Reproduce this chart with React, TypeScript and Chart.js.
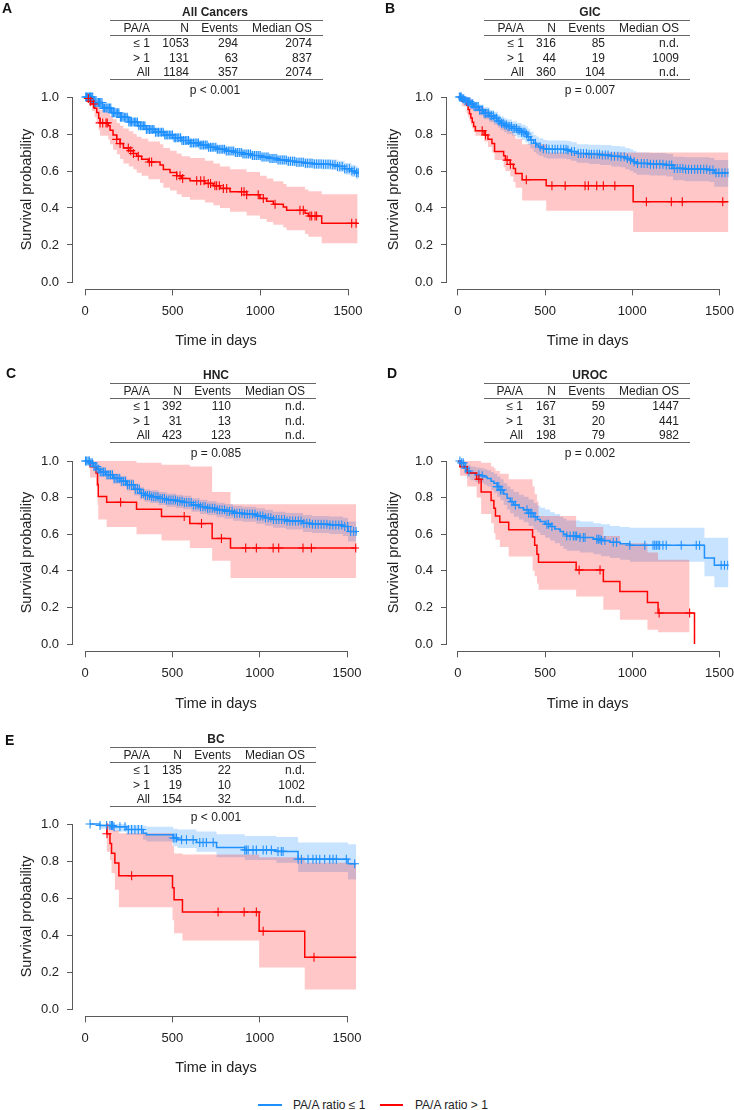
import React, { useEffect, useRef } from "react";
import { Chart, registerables } from "chart.js";

Chart.register(...registerables);

const FONT = "'Liberation Sans', Arial, Helvetica, sans-serif";
const BLUE = "#1E90FF";
const RED = "#FF0000";
const BLUE_BAND = "rgba(30,144,255,0.25)";
const RED_BAND = "rgba(255,0,0,0.22)";
const TEXT = "#222222";
const AXIS = "#5a5a5a";
const RULE = "#666666";

Chart.defaults.font.family = FONT;
Chart.defaults.color = TEXT;

// ---------- axes ----------
const xTicks = [0, 500, 1000, 1500];
const yTicks = [0, 0.2, 0.4, 0.6, 0.8, 1.0];
const xTitle = "Time in days";
const yTitle = "Survival probability";
const legendLabels = ["PA/A ratio \u2264 1", "PA/A ratio > 1"];
const rowLabels = ["\u2264 1", "> 1", "All"];
const headLabels = ["PA/A", "N", "Events", "Median OS"];

// ---------- Panel A: All Cancers ----------
const aLoT = [0, 50, 100, 150, 200, 250, 300, 350, 400, 450, 500, 550, 600, 650, 700, 750, 800, 850, 900, 950, 1000, 1050, 1100, 1150, 1200, 1250, 1300, 1350, 1400, 1440, 1480, 1520, 1545, 1560];
const aLoS = [1, 0.97, 0.94, 0.915, 0.89, 0.865, 0.845, 0.825, 0.81, 0.795, 0.78, 0.765, 0.752, 0.74, 0.728, 0.718, 0.708, 0.7, 0.692, 0.684, 0.676, 0.668, 0.66, 0.653, 0.647, 0.642, 0.638, 0.636, 0.634, 0.625, 0.612, 0.6, 0.59, 0.59];
const aLoU = [1, 0.98, 0.953, 0.93, 0.906, 0.882, 0.863, 0.844, 0.829, 0.815, 0.8, 0.786, 0.773, 0.762, 0.75, 0.74, 0.731, 0.723, 0.715, 0.708, 0.7, 0.693, 0.685, 0.679, 0.673, 0.669, 0.665, 0.664, 0.662, 0.655, 0.643, 0.633, 0.625, 0.625];
const aLoL = [1, 0.96, 0.927, 0.9, 0.874, 0.848, 0.827, 0.806, 0.791, 0.775, 0.76, 0.744, 0.731, 0.718, 0.706, 0.696, 0.685, 0.677, 0.669, 0.66, 0.652, 0.643, 0.635, 0.627, 0.621, 0.615, 0.611, 0.608, 0.606, 0.595, 0.581, 0.567, 0.555, 0.555];
const aLoC = [4, 9, 15, 22, 26, 31, 38, 44, 51, 57, 62, 69, 77, 83, 90, 97, 104, 111, 119, 125, 132, 140, 147, 155, 163, 170, 178, 186, 193, 202, 209, 217, 226, 233, 241, 250, 258, 265, 274, 283, 290, 299, 307, 316, 325, 333, 341, 350, 359, 368, 376, 384, 393, 402, 411, 419, 428, 437, 446, 455, 463, 472, 481, 490, 499, 509, 517, 526, 535, 545, 553, 562, 572, 581, 590, 600, 609, 619, 628, 638, 647, 657, 667, 676, 686, 696, 705, 716, 725, 735, 746, 755, 765, 776, 786, 796, 806, 817, 827, 838, 848, 859, 869, 880, 891, 901, 912, 923, 933, 944, 955, 966, 977, 988, 999, 1010, 1021, 1033, 1044, 1055, 1067, 1078, 1090, 1101, 1113, 1125, 1136, 1148, 1160, 1172, 1184, 1196, 1208, 1221, 1233, 1245, 1258, 1270, 1283, 1295, 1308, 1321, 1334, 1347, 1360, 1373, 1386, 1399, 1413, 1426, 1440, 1453, 1467, 1481, 1494, 1508, 1522, 1536, 1549, 1558];
const aHiT = [0, 12, 25, 40, 55, 67, 78, 86, 133, 143, 160, 181, 200, 219, 250, 276, 295, 323, 361, 428, 447, 485, 523, 551, 599, 684, 732, 770, 827, 922, 998, 1036, 1074, 1131, 1150, 1255, 1274, 1350, 1555];
const aHiS = [1, 0.992, 0.977, 0.962, 0.939, 0.916, 0.885, 0.86, 0.845, 0.82, 0.794, 0.771, 0.748, 0.725, 0.71, 0.695, 0.68, 0.664, 0.649, 0.633, 0.608, 0.592, 0.575, 0.56, 0.547, 0.533, 0.52, 0.506, 0.488, 0.472, 0.452, 0.437, 0.42, 0.405, 0.388, 0.371, 0.357, 0.317, 0.317];
const aHiU = [1, 1, 1, 0.995, 0.985, 0.97, 0.95, 0.93, 0.92, 0.9, 0.88, 0.86, 0.845, 0.83, 0.815, 0.8, 0.785, 0.775, 0.76, 0.745, 0.725, 0.71, 0.695, 0.68, 0.67, 0.655, 0.64, 0.625, 0.61, 0.595, 0.575, 0.56, 0.545, 0.53, 0.515, 0.5, 0.49, 0.475, 0.475];
const aHiL = [1, 0.975, 0.95, 0.925, 0.89, 0.86, 0.82, 0.79, 0.77, 0.745, 0.715, 0.69, 0.665, 0.64, 0.625, 0.61, 0.59, 0.575, 0.555, 0.535, 0.51, 0.495, 0.475, 0.46, 0.445, 0.43, 0.415, 0.4, 0.38, 0.36, 0.34, 0.325, 0.31, 0.295, 0.28, 0.26, 0.245, 0.21, 0.21];
const aHiC = [19, 32, 48, 86, 101, 120, 127, 181, 200, 247, 261, 276, 304, 367, 380, 523, 542, 557, 637, 660, 679, 703, 716, 741, 751, 766, 789, 808, 893, 907, 922, 988, 1017, 1084, 1226, 1245, 1283, 1293, 1312, 1321, 1521, 1546];
const aTitle = "All Cancers";
const aN = [1053, 131, 1184];
const aEv = [294, 63, 357];
const aMed = ["2074", "837", "2074"];
const aP = "p < 0.001";

// ---------- Panel B: GIC ----------
const bLoT = [0, 20, 40, 53, 70, 91, 120, 148, 180, 206, 230, 244, 265, 282, 310, 339, 365, 386, 400, 415, 434, 450, 463, 490, 510, 624, 650, 681, 750, 815, 880, 929, 960, 986, 1005, 1024, 1100, 1195, 1234, 1300, 1443, 1471, 1557];
const bLoS = [1, 0.99, 0.98, 0.975, 0.962, 0.948, 0.93, 0.912, 0.898, 0.885, 0.87, 0.858, 0.848, 0.84, 0.83, 0.82, 0.81, 0.8, 0.785, 0.768, 0.75, 0.74, 0.73, 0.72, 0.717, 0.713, 0.705, 0.695, 0.69, 0.686, 0.68, 0.677, 0.668, 0.66, 0.65, 0.641, 0.637, 0.632, 0.614, 0.61, 0.605, 0.59, 0.59];
const bLoU = [1, 1, 1, 0.995, 0.99, 0.975, 0.96, 0.945, 0.93, 0.92, 0.905, 0.895, 0.885, 0.878, 0.868, 0.86, 0.85, 0.842, 0.828, 0.812, 0.795, 0.786, 0.777, 0.767, 0.765, 0.762, 0.755, 0.745, 0.742, 0.74, 0.735, 0.732, 0.724, 0.717, 0.708, 0.7, 0.697, 0.692, 0.677, 0.674, 0.67, 0.66, 0.66];
const bLoL = [1, 0.975, 0.96, 0.955, 0.935, 0.92, 0.9, 0.88, 0.864, 0.85, 0.834, 0.82, 0.81, 0.8, 0.79, 0.78, 0.768, 0.756, 0.74, 0.722, 0.703, 0.692, 0.682, 0.671, 0.668, 0.664, 0.655, 0.645, 0.638, 0.632, 0.625, 0.62, 0.61, 0.6, 0.59, 0.58, 0.576, 0.57, 0.55, 0.545, 0.54, 0.515, 0.515];
const bLoC = [8, 14, 19, 27, 33, 40, 46, 55, 61, 68, 76, 83, 92, 99, 108, 116, 124, 133, 141, 150, 158, 167, 176, 184, 193, 203, 212, 221, 231, 240, 250, 259, 269, 278, 288, 297, 307, 316, 326, 336, 345, 355, 365, 374, 384, 393, 403, 420, 445, 472, 490, 508, 522, 541, 557, 572, 590, 606, 620, 631, 652, 668, 690, 705, 720, 737, 752, 766, 781, 798, 812, 828, 845, 861, 880, 898, 917, 935, 954, 972, 990, 1011, 1030, 1052, 1068, 1086, 1104, 1122, 1139, 1158, 1176, 1195, 1212, 1226, 1241, 1258, 1274, 1290, 1306, 1323, 1340, 1358, 1375, 1392, 1410, 1427, 1445, 1463, 1480, 1497, 1515, 1532, 1550];
const bHiT = [0, 22, 50, 58, 66, 74, 82, 90, 100, 150, 172, 195, 210, 262, 272, 300, 318, 330, 368, 506, 1005, 1557];
const bHiS = [1, 0.977, 0.955, 0.932, 0.909, 0.886, 0.864, 0.841, 0.818, 0.795, 0.772, 0.749, 0.705, 0.682, 0.659, 0.636, 0.613, 0.586, 0.553, 0.52, 0.434, 0.434];
const bHiU = [1, 1, 1, 1, 0.995, 0.98, 0.97, 0.96, 0.945, 0.93, 0.91, 0.895, 0.86, 0.845, 0.83, 0.815, 0.795, 0.775, 0.745, 0.7, 0.7, 0.7];
const bHiL = [1, 0.95, 0.91, 0.89, 0.87, 0.85, 0.83, 0.81, 0.79, 0.76, 0.73, 0.7, 0.66, 0.62, 0.6, 0.57, 0.54, 0.51, 0.44, 0.385, 0.27, 0.27];
const bHiC = [139, 158, 282, 301, 392, 539, 615, 729, 748, 796, 834, 900, 1081, 1224, 1287, 1519];
const bTitle = "GIC";
const bN = [316, 44, 360];
const bEv = [85, 19, 104];
const bMed = ["n.d.", "1009", "n.d."];
const bP = "p = 0.007";

// ---------- Panel C: HNC ----------
const cLoT = [0, 30, 48, 70, 86, 120, 162, 200, 238, 280, 314, 340, 372, 420, 467, 520, 562, 610, 658, 700, 753, 800, 848, 900, 981, 1030, 1077, 1150, 1248, 1300, 1400, 1477, 1506, 1553];
const cLoS = [1, 0.99, 0.97, 0.955, 0.94, 0.925, 0.905, 0.89, 0.87, 0.845, 0.823, 0.812, 0.805, 0.795, 0.787, 0.78, 0.773, 0.76, 0.75, 0.742, 0.733, 0.725, 0.715, 0.71, 0.7, 0.69, 0.68, 0.672, 0.66, 0.655, 0.65, 0.642, 0.615, 0.605];
const cLoU = [1, 1, 0.99, 0.98, 0.965, 0.95, 0.932, 0.918, 0.9, 0.877, 0.856, 0.845, 0.84, 0.83, 0.822, 0.815, 0.81, 0.797, 0.788, 0.78, 0.772, 0.765, 0.755, 0.75, 0.742, 0.733, 0.723, 0.716, 0.705, 0.7, 0.697, 0.69, 0.67, 0.66];
const cLoL = [1, 0.975, 0.95, 0.93, 0.915, 0.898, 0.876, 0.86, 0.838, 0.812, 0.79, 0.778, 0.77, 0.76, 0.75, 0.743, 0.736, 0.722, 0.71, 0.703, 0.693, 0.685, 0.674, 0.668, 0.657, 0.646, 0.635, 0.626, 0.612, 0.607, 0.601, 0.59, 0.56, 0.55];
const cLoC = [3, 10, 18, 25, 34, 42, 51, 59, 68, 78, 87, 97, 106, 116, 126, 136, 146, 157, 167, 178, 188, 199, 210, 221, 232, 243, 254, 266, 277, 288, 300, 311, 323, 335, 346, 358, 370, 382, 394, 406, 418, 430, 443, 455, 467, 480, 492, 505, 518, 530, 543, 556, 569, 582, 595, 608, 621, 634, 648, 661, 675, 688, 702, 715, 729, 743, 757, 771, 785, 799, 813, 827, 842, 856, 870, 885, 899, 914, 929, 943, 958, 973, 988, 1003, 1018, 1033, 1049, 1064, 1079, 1095, 1110, 1126, 1142, 1157, 1173, 1189, 1205, 1221, 1237, 1253, 1270, 1286, 1302, 1319, 1335, 1352, 1368, 1385, 1402, 1419, 1436, 1453, 1470, 1487, 1504, 1521, 1538, 1552];
const cHiT = [0, 29, 63, 72, 76, 124, 295, 438, 600, 728, 833, 1553];
const cHiS = [1, 0.968, 0.935, 0.871, 0.806, 0.774, 0.736, 0.697, 0.658, 0.577, 0.525, 0.525];
const cHiU = [1, 1, 1, 1, 1, 1, 0.99, 0.98, 0.97, 0.83, 0.763, 0.763];
const cHiL = [1, 0.91, 0.86, 0.76, 0.68, 0.64, 0.6, 0.565, 0.525, 0.455, 0.36, 0.36];
const cHiC = [204, 568, 667, 781, 920, 981, 1077, 1109, 1248, 1296, 1550];
const cTitle = "HNC";
const cN = [392, 31, 423];
const cEv = [110, 13, 123];
const cMed = ["n.d.", "n.d.", "n.d."];
const cP = "p = 0.085";

// ---------- Panel D: UROC ----------
const dLoT = [0, 15, 34, 50, 72, 100, 129, 150, 168, 190, 206, 225, 244, 262, 282, 300, 320, 350, 377, 405, 434, 455, 472, 500, 529, 555, 586, 605, 624, 700, 777, 820, 872, 930, 986, 1414, 1471, 1557];
const dLoS = [1, 0.99, 0.96, 0.945, 0.933, 0.925, 0.92, 0.912, 0.905, 0.89, 0.878, 0.86, 0.842, 0.82, 0.796, 0.778, 0.76, 0.745, 0.733, 0.715, 0.695, 0.68, 0.669, 0.655, 0.642, 0.628, 0.615, 0.6, 0.59, 0.582, 0.573, 0.565, 0.556, 0.548, 0.54, 0.47, 0.43, 0.43];
const dLoU = [1, 1, 0.99, 0.98, 0.97, 0.965, 0.96, 0.955, 0.95, 0.94, 0.93, 0.915, 0.9, 0.88, 0.86, 0.845, 0.83, 0.815, 0.805, 0.79, 0.77, 0.755, 0.745, 0.735, 0.72, 0.71, 0.695, 0.685, 0.675, 0.67, 0.66, 0.655, 0.645, 0.64, 0.635, 0.58, 0.58, 0.58];
const dLoL = [1, 0.975, 0.93, 0.91, 0.895, 0.885, 0.88, 0.87, 0.86, 0.84, 0.826, 0.805, 0.785, 0.76, 0.735, 0.715, 0.695, 0.68, 0.665, 0.645, 0.625, 0.61, 0.595, 0.58, 0.565, 0.55, 0.535, 0.52, 0.51, 0.5, 0.49, 0.48, 0.47, 0.46, 0.45, 0.37, 0.31, 0.31];
const dLoC = [11, 21, 30, 44, 63, 120, 139, 225, 234, 244, 253, 310, 329, 396, 405, 415, 424, 443, 510, 520, 539, 624, 643, 662, 672, 681, 700, 719, 729, 796, 805, 815, 824, 843, 891, 910, 986, 1072, 1119, 1129, 1138, 1148, 1157, 1176, 1195, 1281, 1367, 1386, 1510, 1529, 1548];
const dHiT = [0, 11, 53, 107, 133, 190, 206, 215, 240, 291, 428, 440, 453, 462, 678, 834, 929, 1087, 1148, 1329, 1357];
const dHiS = [1, 0.968, 0.935, 0.9, 0.83, 0.784, 0.742, 0.7, 0.665, 0.624, 0.585, 0.54, 0.49, 0.447, 0.405, 0.342, 0.287, 0.227, 0.169, 0.169, 0];
const dHiU = [1, 1, 1, 1, 0.99, 0.97, 0.96, 0.945, 0.93, 0.9, 0.86, 0.82, 0.78, 0.7, 0.64, 0.59, 0.55, 0.5, 0.46, 0.46, null];
const dHiL = [1, 0.92, 0.86, 0.8, 0.71, 0.66, 0.605, 0.57, 0.53, 0.478, 0.4, 0.37, 0.33, 0.296, 0.26, 0.187, 0.133, 0.078, 0.064, 0.064, null];
const dHiC = [120, 695, 815, 1154, 1329];
const dTitle = "UROC";
const dN = [167, 31, 198];
const dEv = [59, 20, 79];
const dMed = ["1447", "441", "982"];
const dP = "p = 0.002";

// ---------- Panel E: BC ----------
const eLoT = [29, 86, 162, 238, 333, 352, 505, 530, 638, 753, 915, 1096, 1220, 1506, 1553];
const eLoS = [1, 0.992, 0.985, 0.97, 0.95, 0.942, 0.924, 0.915, 0.9, 0.873, 0.86, 0.852, 0.81, 0.785, 0.785];
const eLoU = [1, 1, 1, 0.995, 0.99, 0.985, 0.975, 0.97, 0.96, 0.945, 0.935, 0.93, 0.9, 0.89, 0.89];
const eLoL = [1, 0.975, 0.96, 0.94, 0.915, 0.905, 0.88, 0.87, 0.85, 0.82, 0.805, 0.79, 0.74, 0.7, 0.7];
const eLoC = [29, 86, 124, 143, 152, 158, 166, 200, 229, 248, 267, 286, 305, 324, 505, 515, 524, 553, 581, 619, 657, 676, 695, 734, 915, 924, 934, 962, 981, 1020, 1039, 1067, 1105, 1124, 1134, 1220, 1239, 1277, 1305, 1324, 1344, 1372, 1401, 1420, 1439, 1496, 1544];
const eHiT = [120, 125, 143, 152, 171, 194, 501, 510, 558, 997, 1258, 1553];
const eHiS = [1, 0.947, 0.895, 0.842, 0.789, 0.72, 0.655, 0.59, 0.524, 0.42, 0.28, 0.28];
const eHiU = [1, 1, 0.995, 0.98, 0.965, 0.95, 0.88, 0.84, 0.835, 0.82, 0.79, 0.79];
const eHiL = [1, 0.85, 0.806, 0.734, 0.644, 0.55, 0.48, 0.41, 0.37, 0.225, 0.105, 0.105];
const eHiC = [126, 267, 762, 911, 981, 1020, 1311];
const eTitle = "BC";
const eN = [135, 19, 154];
const eEv = [22, 10, 32];
const eMed = ["n.d.", "1002", "n.d."];
const eP = "p < 0.001";

// ---------- helpers ----------
type Num = number | null;
type Group = { t: number[]; s: number[]; u: Num[]; l: Num[]; c: number[]; line: string; band: string; bandOrder: number; lineOrder: number; markOrder: number };

function survAt(t: number, times: number[], surv: number[]) {
  let v = surv[0];
  for (let i = 0; i < times.length; i++) {
    if (times[i] <= t) v = surv[i];
    else break;
  }
  return v;
}
function pts(t: number[], v: Num[]) {
  return t.map((x, i) => ({ x, y: v[i] })).filter((p) => p.y !== null && p.y !== undefined);
}
function lo(t: number[], s: number[], u: Num[], l: Num[], c: number[]): Group {
  return { t, s, u, l, c, line: BLUE, band: BLUE_BAND, bandOrder: 10, lineOrder: 3, markOrder: 1 };
}
function hi(t: number[], s: number[], u: Num[], l: Num[], c: number[]): Group {
  return { t, s, u, l, c, line: RED, band: RED_BAND, bandOrder: 9, lineOrder: 2, markOrder: 0 };
}

// ---------- layout (absolute page pixels) ----------
type Geo = { cl: number; ct: number; ch: number; axisX: number; x0: number; x1500: number; right: number; y1: number; y0: number; xTitleY: number; yTitleX: number };
type Tbl = { T: number; cx: number; x1: number; x2: number; cols: number[]; letter: string; lx: number; ly: number };

const panels: { geo: Geo; tbl: Tbl; groups: Group[]; title: string; n: number[]; ev: number[]; med: string[]; p: string }[] = [
  {
    geo: { cl: 0, ct: 0, ch: 354, axisX: 73, x0: 85, x1500: 348, right: 359, y1: 97, y0: 282, xTitleY: 341, yTitleX: 27 },
    tbl: { T: 11.5, cx: 215, x1: 110, x2: 323, cols: [150, 189, 238, 312], letter: "A", lx: 2, ly: 8 },
    groups: [lo(aLoT, aLoS, aLoU, aLoL, aLoC), hi(aHiT, aHiS, aHiU, aHiL, aHiC)],
    title: aTitle, n: aN, ev: aEv, med: aMed, p: aP,
  },
  {
    geo: { cl: 367, ct: 0, ch: 354, axisX: 447, x0: 458, x1500: 720, right: 729, y1: 97, y0: 282, xTitleY: 341, yTitleX: 394 },
    tbl: { T: 11.5, cx: 590, x1: 484, x2: 690, cols: [524, 556, 605, 679], letter: "B", lx: 385, ly: 8 },
    groups: [lo(bLoT, bLoS, bLoU, bLoL, bLoC), hi(bHiT, bHiS, bHiU, bHiL, bHiC)],
    title: bTitle, n: bN, ev: bEv, med: bMed, p: bP,
  },
  {
    geo: { cl: 0, ct: 360, ch: 356, axisX: 73, x0: 85, x1500: 347, right: 359, y1: 461, y0: 644, xTitleY: 704, yTitleX: 27 },
    tbl: { T: 374.5, cx: 216, x1: 110, x2: 316, cols: [150, 182, 231, 305], letter: "C", lx: 6, ly: 373 },
    groups: [lo(cLoT, cLoS, cLoU, cLoL, cLoC), hi(cHiT, cHiS, cHiU, cHiL, cHiC)],
    title: cTitle, n: cN, ev: cEv, med: cMed, p: cP,
  },
  {
    geo: { cl: 367, ct: 360, ch: 356, axisX: 447, x0: 458, x1500: 720, right: 729, y1: 461, y0: 644, xTitleY: 704, yTitleX: 394 },
    tbl: { T: 374.5, cx: 590, x1: 484, x2: 690, cols: [523, 556, 605, 679], letter: "D", lx: 387, ly: 373 },
    groups: [lo(dLoT, dLoS, dLoU, dLoL, dLoC), hi(dHiT, dHiS, dHiU, dHiL, dHiC)],
    title: dTitle, n: dN, ev: dEv, med: dMed, p: dP,
  },
  {
    geo: { cl: 0, ct: 724, ch: 356, axisX: 73, x0: 85, x1500: 347, right: 359, y1: 824, y0: 1009, xTitleY: 1068, yTitleX: 27 },
    tbl: { T: 738.5, cx: 216, x1: 110, x2: 316, cols: [150, 182, 231, 305], letter: "E", lx: 5, ly: 740 },
    groups: [lo(eLoT, eLoS, eLoU, eLoL, eLoC), hi(eHiT, eHiS, eHiU, eHiL, eHiC)],
    title: eTitle, n: eN, ev: eEv, med: eMed, p: eP,
  },
];

const W = 367;
const TICK_FS = 13;
const TITLE_FS = 14.5;

function buildChart(canvas: HTMLCanvasElement, geo: Geo, groups: Group[]) {
  const ppd = (geo.x1500 - geo.x0) / 1500;
  const xmin = -(geo.x0 - geo.axisX) / ppd;
  const xmax = (geo.right - geo.x0) / ppd;
  const ppu = geo.y0 - geo.y1;
  const top = geo.y1 - 0.04 * ppu - geo.ct;
  const bottom = geo.y0 + 0.04 * ppu - geo.ct;
  const left = geo.axisX - geo.cl;
  const right = geo.right - geo.cl;
  const lh = TITLE_FS * 1.2;
  const xTitlePadB = geo.ch - (geo.xTitleY - geo.ct) - lh / 2;
  const yTitlePadT = geo.yTitleX - geo.cl - lh / 2;

  const datasets: any[] = [];
  groups.forEach((g) => {
    datasets.push({ data: pts(g.t, g.u), stepped: true, borderWidth: 0, borderColor: "rgba(0,0,0,0)", pointRadius: 0, fill: "+1", backgroundColor: g.band, order: g.bandOrder });
    datasets.push({ data: pts(g.t, g.l), stepped: true, borderWidth: 0, borderColor: "rgba(0,0,0,0)", pointRadius: 0, fill: false, order: g.bandOrder });
  });
  groups.forEach((g) => {
    datasets.push({ data: pts(g.t, g.s), stepped: true, borderColor: g.line, borderWidth: 1.5, pointRadius: 0, fill: false, order: g.lineOrder });
  });
  groups.forEach((g) => {
    datasets.push({
      data: g.c.map((tc) => ({ x: tc, y: survAt(tc, g.t, g.s) })),
      showLine: false, pointStyle: "cross", pointRadius: 4.5, pointBorderWidth: 1.1,
      pointBorderColor: g.line, pointBackgroundColor: g.line, borderColor: g.line, order: g.markOrder,
    });
  });

  const axesPlugin = {
    id: "rAxes",
    afterDraw(chart: any) {
      const { ctx, chartArea } = chart;
      const xs = chart.scales.x;
      const ys = chart.scales.y;
      ctx.save();
      ctx.strokeStyle = AXIS;
      ctx.lineWidth = 1;
      ctx.beginPath();
      const yb = Math.round(chartArea.bottom) + 0.5;
      ctx.moveTo(xs.getPixelForValue(xTicks[0]), yb);
      ctx.lineTo(xs.getPixelForValue(xTicks[xTicks.length - 1]), yb);
      const xl = Math.round(chartArea.left) - 0.5;
      ctx.moveTo(xl, ys.getPixelForValue(yTicks[0]));
      ctx.lineTo(xl, ys.getPixelForValue(yTicks[yTicks.length - 1]));
      ctx.stroke();
      ctx.restore();
    },
  };

  return new Chart(canvas, {
    type: "line",
    data: { datasets },
    options: {
      animation: false,
      responsive: false,
      events: [],
      layout: { padding: { left: 0, top, right: W - right, bottom: 0 } },
      plugins: { legend: { display: false }, tooltip: { enabled: false }, title: { display: false } },
      scales: {
        x: {
          type: "linear",
          min: xmin,
          max: xmax,
          afterBuildTicks: (s: any) => { s.ticks = xTicks.map((v) => ({ value: v })); },
          afterFit: (s: any) => { s.height = geo.ch - bottom; s.paddingLeft = 0; s.paddingRight = 0; s.paddingTop = 0; s.paddingBottom = 0; },
          ticks: { autoSkip: false, maxRotation: 0, padding: 8, color: TEXT, font: { size: TICK_FS, family: FONT }, callback: (v: any) => String(v) },
          grid: { drawOnChartArea: false, drawTicks: true, tickLength: 6, color: AXIS, lineWidth: 1 },
          border: { display: false },
          title: { display: true, text: xTitle, color: TEXT, font: { size: TITLE_FS, family: FONT }, padding: { top: 0, bottom: xTitlePadB } },
        },
        y: {
          type: "linear",
          min: -0.04,
          max: 1.04,
          afterBuildTicks: (s: any) => { s.ticks = yTicks.map((v) => ({ value: v })); },
          afterFit: (s: any) => { s.width = left; s.paddingLeft = 0; s.paddingRight = 0; s.paddingTop = 0; s.paddingBottom = 0; },
          ticks: { autoSkip: false, padding: 8, color: TEXT, font: { size: TICK_FS, family: FONT }, callback: (v: any) => Number(v).toFixed(1) },
          grid: { drawOnChartArea: false, drawTicks: true, tickLength: 6, color: AXIS, lineWidth: 1 },
          border: { display: false },
          title: { display: true, text: yTitle, color: TEXT, font: { size: TITLE_FS, family: FONT }, padding: { top: yTitlePadT, bottom: 0 } },
        },
      },
    },
    plugins: [axesPlugin],
  } as any);
}

function PanelChart({ geo, groups }: { geo: Geo; groups: Group[] }) {
  const ref = useRef<HTMLCanvasElement | null>(null);
  useEffect(() => {
    if (!ref.current) return;
    const chart = buildChart(ref.current, geo, groups);
    return () => chart.destroy();
  }, []);
  return (
    <canvas
      ref={ref}
      width={W}
      height={geo.ch}
      style={{ position: "absolute", left: geo.cl, top: geo.ct, width: W, height: geo.ch }}
    />
  );
}

const LH = 14;
const baseText: React.CSSProperties = {
  position: "absolute",
  fontFamily: FONT,
  fontSize: 12,
  lineHeight: LH + "px",
  color: TEXT,
  whiteSpace: "nowrap",
};

function RText({ x, y, children, bold }: { x: number; y: number; children: React.ReactNode; bold?: boolean }) {
  return <div style={{ ...baseText, left: x - 150, top: y - LH / 2, width: 150, textAlign: "right", fontWeight: bold ? "bold" : "normal" }}>{children}</div>;
}
function CText({ x, y, children, bold }: { x: number; y: number; children: React.ReactNode; bold?: boolean }) {
  return <div style={{ ...baseText, left: x - 150, top: y - LH / 2, width: 300, textAlign: "center", fontWeight: bold ? "bold" : "normal" }}>{children}</div>;
}
function Rule({ x1, x2, y }: { x1: number; x2: number; y: number }) {
  return <div style={{ position: "absolute", left: x1, top: Math.round(y - 0.5), width: x2 - x1, height: 1, background: RULE }} />;
}

function PanelTable({ tbl, title, n, ev, med, p }: { tbl: Tbl; title: string; n: number[]; ev: number[]; med: string[]; p: string }) {
  const T = tbl.T;
  const rowsY = [T + 31, T + 46, T + 60.5];
  return (
    <>
      <div style={{ ...baseText, fontSize: 14, fontWeight: "bold", lineHeight: "16px", left: tbl.lx, top: tbl.ly - 8, color: "#111" }}>{tbl.letter}</div>
      <CText x={tbl.cx} y={T} bold>{title}</CText>
      <Rule x1={tbl.x1} x2={tbl.x2} y={T + 8.5} />
      {headLabels.map((h, i) => (
        <RText key={"h" + i} x={tbl.cols[i]} y={T + 16.5}>{h}</RText>
      ))}
      <Rule x1={tbl.x1} x2={tbl.x2} y={T + 23.5} />
      {rowLabels.map((r, i) => (
        <React.Fragment key={"r" + i}>
          <RText x={tbl.cols[0]} y={rowsY[i]}>{r}</RText>
          <RText x={tbl.cols[1]} y={rowsY[i]}>{n[i]}</RText>
          <RText x={tbl.cols[2]} y={rowsY[i]}>{ev[i]}</RText>
          <RText x={tbl.cols[3]} y={rowsY[i]}>{med[i]}</RText>
        </React.Fragment>
      ))}
      <Rule x1={tbl.x1} x2={tbl.x2} y={T + 68} />
      <CText x={tbl.cx} y={T + 78.5}>{p}</CText>
    </>
  );
}

export default function App() {
  const legendY = 1105;
  return (
    <div style={{ position: "absolute", left: 0, top: 0, width: 734, height: 1110, background: "#ffffff", overflow: "hidden" }}>
      {panels.map((pn, i) => (
        <PanelChart key={"c" + i} geo={pn.geo} groups={pn.groups} />
      ))}
      {panels.map((pn, i) => (
        <PanelTable key={"t" + i} tbl={pn.tbl} title={pn.title} n={pn.n} ev={pn.ev} med={pn.med} p={pn.p} />
      ))}
      <div style={{ position: "absolute", left: 258, top: legendY - 1, width: 24, height: 2, background: BLUE }} />
      <div style={{ ...baseText, left: 293, top: legendY - LH / 2 }}>{legendLabels[0]}</div>
      <div style={{ position: "absolute", left: 380, top: legendY - 1, width: 23, height: 2, background: RED }} />
      <div style={{ ...baseText, left: 415, top: legendY - LH / 2 }}>{legendLabels[1]}</div>
    </div>
  );
}
